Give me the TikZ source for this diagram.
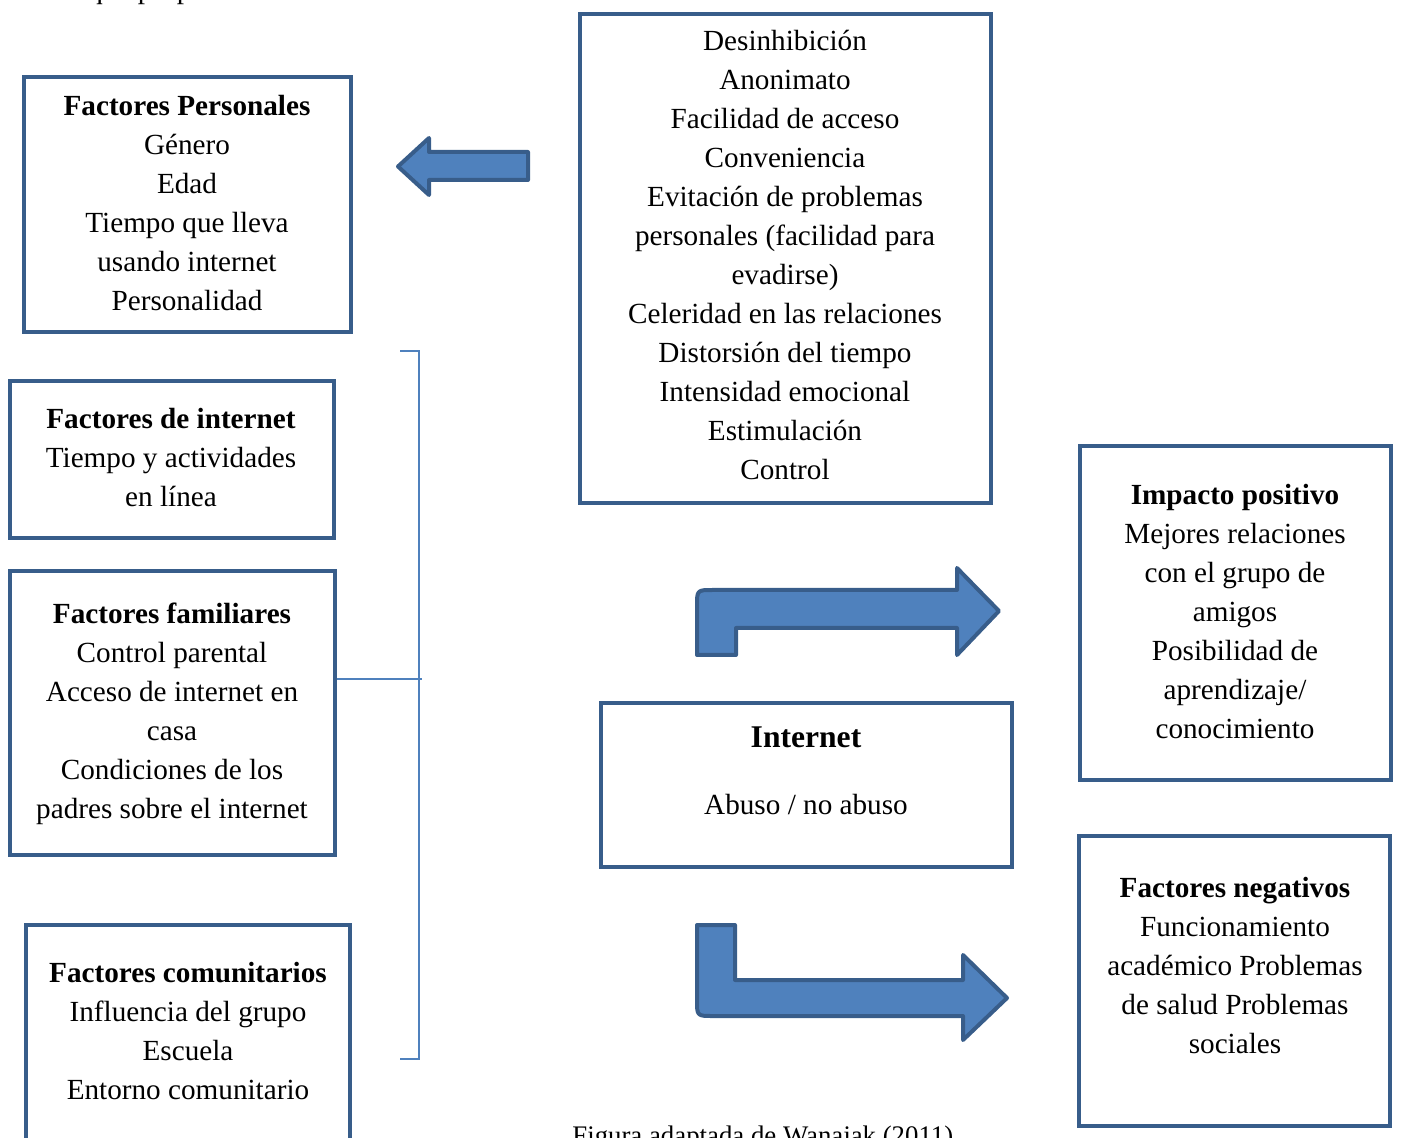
\documentclass[tikz,border=0pt]{standalone}
\usepackage{fontspec}
\setmainfont{Liberation Serif}
\definecolor{bfill}{HTML}{4F81BD}
\definecolor{bdraw}{HTML}{385D8A}
\begin{document}
\begin{tikzpicture}[x=0.5pt,y=-0.5pt,
  box/.style={draw=bdraw,line width=2pt,inner sep=0pt},
  txt/.style={align=center,font=\fontsize{14.6}{19.5}\selectfont,inner sep=0pt},
  blk/.style={fill=bfill,draw=bdraw,line width=2pt,line join=round},
  brk/.style={draw=bfill,line width=0.8pt}]
\useasboundingbox (0,0) rectangle (1403,1138);
\clip (0,0) rectangle (1403,1138);

% cut-off text at top and caption at bottom
\node[txt,anchor=base west] (toptext) at (88,-1.5) {que propicia el consumo adictivo.};
\node[txt,anchor=base west,font=\fontsize{13.4}{16}\selectfont] (caption) at (572,1144) {Figura adaptada de Wanajak (2011)};

% boxes
\node[box,minimum width=163.5pt,minimum height=127.5pt] (pers) at (187.5,204.5) {};
\node[box,minimum width=162pt,minimum height=78.5pt] (inet) at (172,459.5) {};
\node[box,minimum width=162.5pt,minimum height=142pt] (fam) at (172.5,713) {};
\node[box,minimum width=162pt,minimum height=111.5pt] (com) at (188,1036.5) {};
\node[box,minimum width=205.5pt,minimum height=244.5pt] (feat) at (785.5,258.5) {};
\node[box,minimum width=205.5pt,minimum height=82pt] (internet) at (806.5,785) {};
\node[box,minimum width=155.5pt,minimum height=167pt] (pos) at (1235.5,613) {};
\node[box,minimum width=155.5pt,minimum height=145pt] (neg) at (1234.5,981) {};

% texts
\node[txt] (pers-t) at (187,203) {\textbf{Factores Personales}\\Género\\Edad\\Tiempo que lleva\\usando internet\\Personalidad};
\node[txt] (inet-t) at (171,458) {\textbf{Factores de internet}\\Tiempo y actividades\\en línea};
\node[txt] (fam-t) at (172,714) {\textbf{Factores familiares}\\Control parental\\Acceso de internet en\\casa\\Condiciones de los\\padres sobre el internet};
\node[txt] (com-t) at (188,1031) {\textbf{Factores comunitarios}\\Influencia del grupo\\Escuela\\Entorno comunitario};
\node[txt] (feat-t) at (785,255) {Desinhibición\\Anonimato\\Facilidad de acceso\\Conveniencia\\Evitación de problemas\\personales (facilidad para\\evadirse)\\Celeridad en las relaciones\\Distorsión del tiempo\\Intensidad emocional\\Estimulación\\Control};
\node[txt,font=\bfseries\fontsize{15.8}{19.5}\selectfont] (internet-t) at (806,737) {Internet};
\node[txt] (abuso-t) at (806,805) {Abuso / no abuso};
\node[txt] (pos-t) at (1235,612) {\textbf{Impacto positivo}\\Mejores relaciones\\con el grupo de\\amigos\\Posibilidad de\\aprendizaje/\\conocimiento};
\node[txt] (neg-t) at (1235,966) {\textbf{Factores negativos}\\Funcionamiento\\académico Problemas\\de salud Problemas\\sociales};

% block arrows
\draw[blk] (528,152) -- (429,152) -- (429,138) -- (398,166.5) -- (429,195) -- (429,180) -- (528,180) -- cycle;
\draw[blk] (736,655) -- (697,655) -- (697,606) .. controls (697,590) and (697,590) .. (713,590)
  -- (957,590) -- (957,568) -- (999,611) -- (957,655) -- (957,628) -- (736,628) -- cycle;
\draw[blk] (697,925) -- (735,925) -- (735,980) -- (963,980) -- (963,955) -- (1007,998)
  -- (963,1040) -- (963,1016) -- (713,1016) .. controls (697,1016) and (697,1016) .. (697,1000) -- cycle;

% bracket
\coordinate (btop) at (400,351);
\coordinate (bbot) at (400,1059);
\coordinate (bm) at (422,679);
\draw[brk] (btop) -- (419,351) -- (419,1059) -- (bbot);
\draw[brk] (fam.east |- bm) -- (bm);
\end{tikzpicture}
\end{document}
